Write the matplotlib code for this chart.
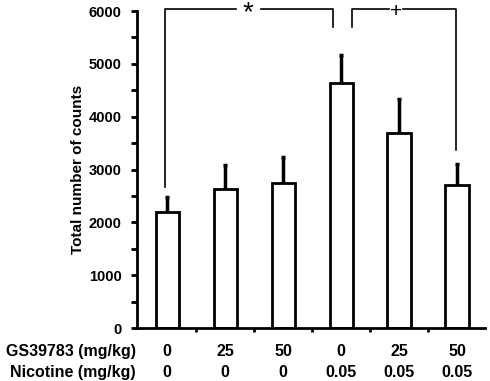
import matplotlib
matplotlib.use('Agg')
import matplotlib.pyplot as plt
from matplotlib.ticker import MultipleLocator

gs_dose = ['0', '25', '50', '0', '25', '50']
nic_dose = ['0', '0', '0', '0.05', '0.05', '0.05']
counts = [2200, 2640, 2740, 4640, 3690, 2710]
sem = [280, 450, 490, 530, 645, 400]

plt.rcParams['font.family'] = ['Liberation Sans', 'DejaVu Sans']
plt.rcParams['font.weight'] = 'bold'

fig = plt.figure(figsize=(4.9, 3.81), dpi=100)
ax = fig.add_axes([0.2796, 0.139, 0.71, 0.832])

x = list(range(len(counts)))
ax.bar(x, counts, width=0.4, color='white', edgecolor='black', linewidth=2, zorder=2)
ax.errorbar(x, counts, yerr=[[0] * len(sem), sem], fmt='none', ecolor='black',
            elinewidth=2.5, capsize=1.5, capthick=2.5, zorder=1)

ax.set_xlim(-0.52, 5.48)
ax.set_ylim(0, 6000)
ax.yaxis.set_major_locator(MultipleLocator(1000))
ax.yaxis.set_minor_locator(MultipleLocator(500))
ax.set_xticks([0.5, 1.5, 2.5, 3.5, 4.5])
ax.set_xticklabels([])
ax.tick_params(axis='y', which='both', direction='out', length=4, width=2, labelsize=10.5, pad=7)
ax.tick_params(axis='x', direction='out', length=3, width=2)
for lab in ax.get_yticklabels():
    lab.set_fontweight('bold')
for s in ['top', 'right']:
    ax.spines[s].set_visible(False)
for s in ['left', 'bottom']:
    ax.spines[s].set_linewidth(2)
ax.set_ylabel('Total number of counts', fontsize=11, fontweight='bold', labelpad=3)

# significance brackets
kw = dict(color='black', linewidth=1.2, clip_on=False)
top = 6040
ax.plot([-0.03, -0.03, 1.18], [2670, top, top], **kw)
ax.plot([1.62, 2.86, 2.86], [top, top, 5700], **kw)
ax.text(1.40, top - 80, '*', ha='center', va='center', fontsize=20, fontweight='normal')
ax.plot([3.19, 3.19, 3.83], [5700, top, top], **kw)
ax.plot([4.06, 4.98, 4.98], [top, top, 3370], **kw)
ax.text(3.94, top - 40, '+', ha='center', va='center', fontsize=15, fontweight='normal')

# dose table under the axis
ax.text(-0.003, -0.075, 'GS39783 (mg/kg)', transform=ax.transAxes, ha='right', va='center',
        fontsize=11.5, fontweight='bold')
ax.text(-0.003, -0.14, 'Nicotine (mg/kg)', transform=ax.transAxes, ha='right', va='center',
        fontsize=11.5, fontweight='bold')
tr = ax.get_xaxis_transform()
for i in x:
    ax.text(i, -0.075, gs_dose[i], transform=tr, ha='center', va='center', fontsize=11.5, fontweight='bold')
    ax.text(i, -0.14, nic_dose[i], transform=tr, ha='center', va='center', fontsize=11.5, fontweight='bold')

fig.savefig('out.png', dpi=100)
